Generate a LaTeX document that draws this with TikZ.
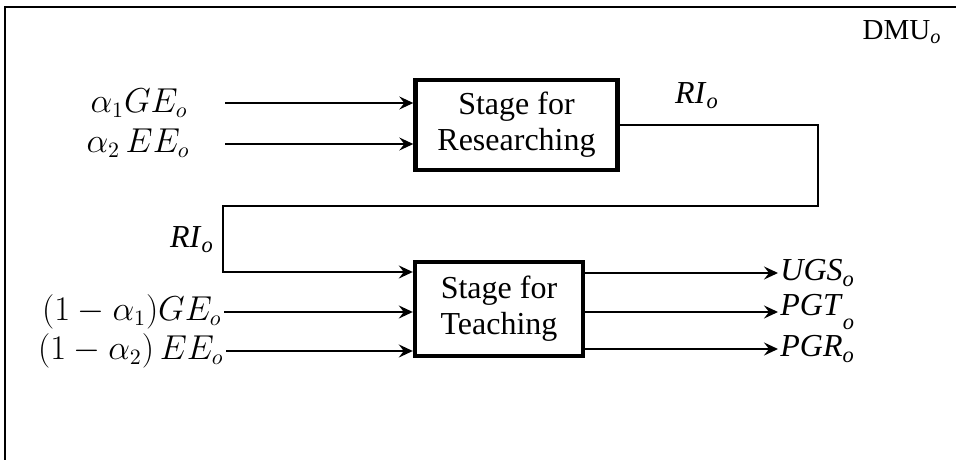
\documentclass[tikz,border=0pt]{standalone}
\usepackage{fontspec}
\setmainfont{Liberation Serif}
\usepackage{tikz}
\usetikzlibrary{positioning, arrows.meta}
\tikzset{
	stage/.style={draw, line width=2.2pt, align=center, font=\fontsize{16}{18}\selectfont},
	flow/.style={-{Stealth[length=7pt,width=6.5pt,inset=2.5pt]}, line width=0.9pt},
	lbl/.style={font=\fontsize{16}{18}\selectfont, inner sep=1pt}
}

\begin{document}
\begin{tikzpicture}[x=0.5pt, y=-0.5pt]
			\useasboundingbox (0,0) rectangle (956,460);
			\draw[line width=1pt] (956,7) -- (5,7) -- (5,460);
			\node[lbl, font=\fontsize{14.5}{16}\selectfont] (dmu) at (902,32) {DMU\textsubscript{\textit{o}}};
			
			\node[stage, minimum width=101pt, minimum height=45pt] (res) at (516.5,125) {Stage for\\Researching};
			\node[stage, minimum width=84pt, minimum height=47pt] (teach) at (499,309) {Stage for\\Teaching};
			
			\node[lbl] (ge) at (139,103) {$\alpha_1GE_o$};
			\node[lbl] (ee) at (138,143) {$\alpha_2\,EE_o$};
			\coordinate (r1) at (225,103);
			\coordinate (r2) at (225,144);
			\node[lbl, anchor=east] (tge) at (224,312) {$(1-\alpha_1)GE_o$};
			\node[lbl, anchor=east] (tee) at (226,351) {$(1-\alpha_2)\,EE_o$};
			
			\node[lbl] (rtop) at (697,96) {\textit{RI}\textsubscript{\textit{o}}};
			\node[lbl] (rleft) at (192,240) {\textit{RI}\textsubscript{\textit{o}}};
			\coordinate (c1) at (818,206);
			\coordinate (c2) at (223,272);
			
			\node[lbl, anchor=west] (ugs) at (778,273) {\textit{UGS}\textsubscript{\textit{o}}};
			\node[lbl, anchor=west] (pgt) at (778,312) {\textit{PGT}\raisebox{-0.6ex}{\textsubscript{\textit{o}}}};
			\node[lbl, anchor=west] (pgr) at (778,349) {\textit{PGR}\textsubscript{\textit{o}}};
			
			\draw[flow] (r1) -- (r1 -| res.west);
			\draw[flow] (r2) -- (r2 -| res.west);
			\draw[flow] (res.east) -| (c1) -| (c2) -- (c2 -| teach.west);
			\draw[flow] (tge.east) -- (tge.east -| teach.west);
			\draw[flow] (tee.east) -- (tee.east -| teach.west);
			\draw[flow] (ugs.west -| teach.east) -- (ugs.west);
			\draw[flow] (pgt.west -| teach.east) -- (pgt.west);
			\draw[flow] (pgr.west -| teach.east) -- (pgr.west);
		\end{tikzpicture}
\end{document}
